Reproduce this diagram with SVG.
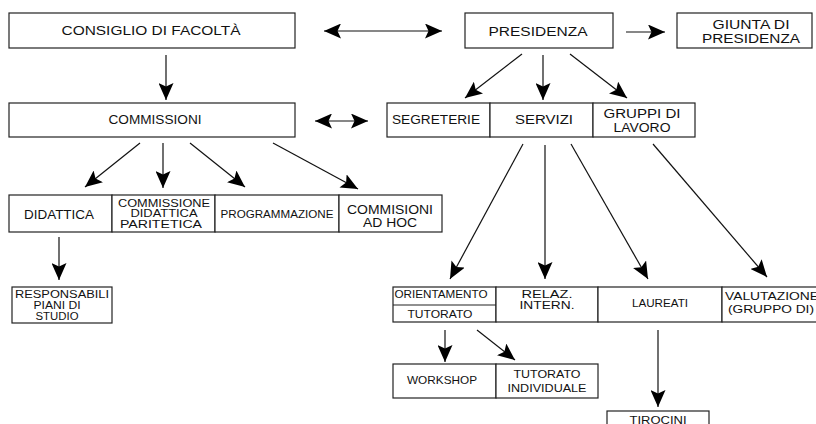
<svg xmlns="http://www.w3.org/2000/svg" width="816" height="424" viewBox="0 0 816 424">
<style>
.b{fill:#fff;stroke:#222;stroke-width:1.2}
.c line{stroke:#111;stroke-width:1.2;fill:none}
.a{marker-end:url(#ah)}
.d{marker-start:url(#ahs);marker-end:url(#ah)}
text{font-family:"Liberation Sans",Arial,sans-serif;fill:#111;text-anchor:middle}
.s{text-anchor:start}
</style>
<defs>
<marker id="ah" markerUnits="userSpaceOnUse" markerWidth="17" markerHeight="15" refX="17" refY="7.5" orient="auto">
<path d="M0,0 L17,7.5 L0,15 L3.5,7.5 z" fill="#000"/>
</marker>
<marker id="ahs" markerUnits="userSpaceOnUse" markerWidth="17" markerHeight="15" refX="17" refY="7.5" orient="auto-start-reverse">
<path d="M0,0 L17,7.5 L0,15 L3.5,7.5 z" fill="#000"/>
</marker>
</defs>
<rect width="816" height="424" fill="#fff"/>

<g class="c" id="connectors">
<line class="d" x1="324" y1="31" x2="442" y2="31"/>
<line class="a" x1="626" y1="32" x2="665" y2="32"/>
<line class="a" x1="166" y1="55" x2="166" y2="100"/>
<line class="d" x1="315" y1="121" x2="368" y2="121"/>
<line class="a" x1="522" y1="54" x2="465" y2="98"/>
<line class="a" x1="543" y1="55" x2="543" y2="100"/>
<line class="a" x1="570" y1="54" x2="627" y2="98"/>
<line class="a" x1="140" y1="143" x2="85" y2="187"/>
<line class="a" x1="163" y1="143" x2="163" y2="188"/>
<line class="a" x1="190" y1="143" x2="245" y2="187"/>
<line class="a" x1="273" y1="143" x2="358" y2="189"/>
<line class="a" x1="59" y1="237" x2="59" y2="280"/>
<line class="a" x1="523" y1="144" x2="450" y2="279"/>
<line class="a" x1="545" y1="145" x2="545" y2="279"/>
<line class="a" x1="571" y1="144" x2="648" y2="279"/>
<line class="a" x1="653" y1="144" x2="767" y2="277"/>
<line class="a" x1="445" y1="330" x2="445" y2="362"/>
<line class="a" x1="477" y1="330" x2="515" y2="360"/>
<line class="a" x1="658" y1="330" x2="658" y2="407"/>
</g>

<g id="consiglio"><rect class="b" x="9" y="13" width="286" height="35"/><text x="151" y="35" font-size="12.5" textLength="179" lengthAdjust="spacingAndGlyphs">CONSIGLIO DI FACOLTÀ</text></g>
<g id="presidenza"><rect class="b" x="465" y="13" width="148" height="35"/><text x="538" y="35.5" font-size="12.5" textLength="99" lengthAdjust="spacingAndGlyphs">PRESIDENZA</text></g>
<g id="giunta"><rect class="b" x="677" y="13" width="135" height="35"/><text x="751" y="29" font-size="12" textLength="77" lengthAdjust="spacingAndGlyphs">GIUNTA DI</text><text x="751" y="43" font-size="12" textLength="98" lengthAdjust="spacingAndGlyphs">PRESIDENZA</text></g>
<g id="commissioni"><rect class="b" x="9" y="103" width="286" height="34"/><text x="155" y="124" font-size="12.5" textLength="93" lengthAdjust="spacingAndGlyphs">COMMISSIONI</text></g>
<g id="segreterie"><rect class="b" x="387" y="103" width="103" height="34"/><text x="436" y="124" font-size="12" textLength="88" lengthAdjust="spacingAndGlyphs">SEGRETERIE</text></g>
<g id="servizi"><rect class="b" x="490" y="103" width="103" height="34"/><text x="544" y="124" font-size="12" textLength="58" lengthAdjust="spacingAndGlyphs">SERVIZI</text></g>
<g id="gruppi"><rect class="b" x="593" y="103" width="102" height="34"/><text x="642" y="118" font-size="12" textLength="77" lengthAdjust="spacingAndGlyphs">GRUPPI DI</text><text x="642" y="132" font-size="12" textLength="57" lengthAdjust="spacingAndGlyphs">LAVORO</text></g>
<g id="didattica"><rect class="b" x="9" y="195" width="103" height="37"/><text x="59" y="219" font-size="12.5" textLength="70" lengthAdjust="spacingAndGlyphs">DIDATTICA</text></g>
<g id="paritetica"><rect class="b" x="112" y="195" width="103" height="37"/><text x="164" y="207" font-size="10" textLength="92" lengthAdjust="spacingAndGlyphs">COMMISSIONE</text><text x="164" y="217" font-size="10" textLength="67" lengthAdjust="spacingAndGlyphs">DIDATTICA</text><text x="161" y="228" font-size="10" textLength="82" lengthAdjust="spacingAndGlyphs">PARITETICA</text></g>
<g id="programmazione"><rect class="b" x="215" y="195" width="124" height="37"/><text x="277" y="217.5" font-size="10.5" textLength="113" lengthAdjust="spacingAndGlyphs">PROGRAMMAZIONE</text></g>
<g id="adhoc"><rect class="b" x="339" y="195" width="103" height="37"/><text x="390" y="214" font-size="12" textLength="86" lengthAdjust="spacingAndGlyphs">COMMISIONI</text><text x="390" y="227" font-size="12" textLength="54" lengthAdjust="spacingAndGlyphs">AD HOC</text></g>
<g id="responsabili"><rect class="b" x="12" y="287" width="100" height="36"/><text x="62" y="298" font-size="10" textLength="94" lengthAdjust="spacingAndGlyphs">RESPONSABILI</text><text x="57" y="309" font-size="10" textLength="47" lengthAdjust="spacingAndGlyphs">PIANI DI</text><text x="57" y="320" font-size="10" textLength="43" lengthAdjust="spacingAndGlyphs">STUDIO</text></g>
<g id="orientamento"><rect class="b" x="393" y="287" width="103" height="35"/><line x1="393" y1="305" x2="496" y2="305" stroke="#222" stroke-width="1.2"/><text x="441" y="298" font-size="10.5" textLength="93" lengthAdjust="spacingAndGlyphs">ORIENTAMENTO</text><text x="440" y="318" font-size="10.5" textLength="65" lengthAdjust="spacingAndGlyphs">TUTORATO</text></g>
<g id="relaz"><rect class="b" x="496" y="287" width="102" height="35"/><text x="547" y="298" font-size="10" textLength="51" lengthAdjust="spacingAndGlyphs">RELAZ.</text><text x="547" y="308.5" font-size="10" textLength="55" lengthAdjust="spacingAndGlyphs">INTERN.</text></g>
<g id="laureati"><rect class="b" x="598" y="287" width="124" height="35"/><text x="660" y="306.5" font-size="10.5" textLength="56" lengthAdjust="spacingAndGlyphs">LAUREATI</text></g>
<g id="valutazione"><rect class="b" x="722" y="287" width="110" height="35"/><text class="s" x="725" y="300" font-size="11" textLength="94" lengthAdjust="spacingAndGlyphs">VALUTAZIONE</text><text class="s" x="728" y="313" font-size="11" textLength="86" lengthAdjust="spacingAndGlyphs">(GRUPPO DI)</text></g>
<g id="workshop"><rect class="b" x="393" y="364" width="103" height="34"/><text x="442" y="384" font-size="10.5" textLength="70" lengthAdjust="spacingAndGlyphs">WORKSHOP</text></g>
<g id="individuale"><rect class="b" x="496" y="364" width="102" height="34"/><text x="547" y="378" font-size="10.5" textLength="67" lengthAdjust="spacingAndGlyphs">TUTORATO</text><text x="547" y="392" font-size="10.5" textLength="79" lengthAdjust="spacingAndGlyphs">INDIVIDUALE</text></g>
<g id="tirocini"><rect class="b" x="607" y="411" width="102" height="30"/><text x="658" y="424" font-size="10" textLength="57" lengthAdjust="spacingAndGlyphs">TIROCINI</text></g>
</svg>
